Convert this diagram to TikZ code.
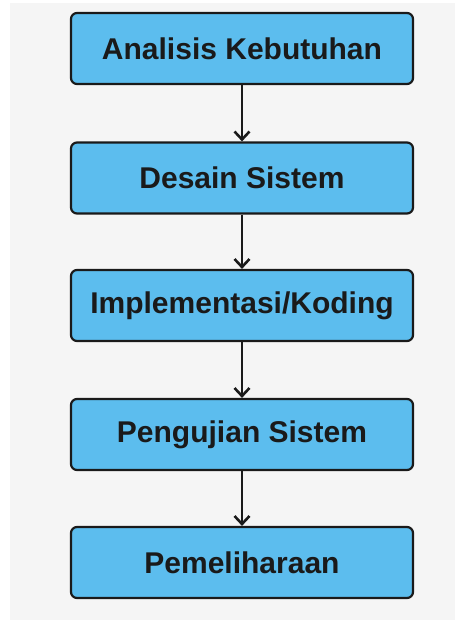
\documentclass[tikz,border=0pt]{standalone}
\usepackage{fontspec}
\setmainfont{Liberation Sans}
\usetikzlibrary{arrows.meta}
\definecolor{stepblue}{HTML}{5CBDEE}
\definecolor{bggray}{HTML}{F5F5F5}
\definecolor{edgeblack}{HTML}{1A1A1A}
\tikzset{
  phase/.style={draw=edgeblack, fill=stepblue, line width=2.2pt, rounded corners=6pt,
    minimum width=342pt, minimum height=71pt, inner sep=0pt,
    font=\fontsize{30}{34}\selectfont\bfseries, text=edgeblack},
  flow/.style={-{Straight Barb[length=8pt,width=15pt,line width=2.6pt]}, line width=2.6pt, draw=edgeblack}
}
\begin{document}
\begin{tikzpicture}[x=1pt,y=1pt]
\useasboundingbox (0,0) rectangle (461,-630);
\fill[white] (0,0) rectangle (461,-630);
\fill[bggray] (10,-3) rectangle (455,-620);
\node[phase] (analisis) at (242,-48.5) {Analisis Kebutuhan};
\node[phase] (desain) at (242,-178) {Desain Sistem};
\node[phase] (implementasi) at (242,-305.5) {Implementasi/Koding};
\node[phase] (pengujian) at (242,-434.5) {Pengujian Sistem};
\node[phase] (pemeliharaan) at (242,-562.5) {Pemeliharaan};
\draw[flow] (analisis) -- (desain);
\draw[flow] (desain) -- (implementasi);
\draw[flow] (implementasi) -- (pengujian);
\draw[flow] (pengujian) -- (pemeliharaan);
\end{tikzpicture}
\end{document}
